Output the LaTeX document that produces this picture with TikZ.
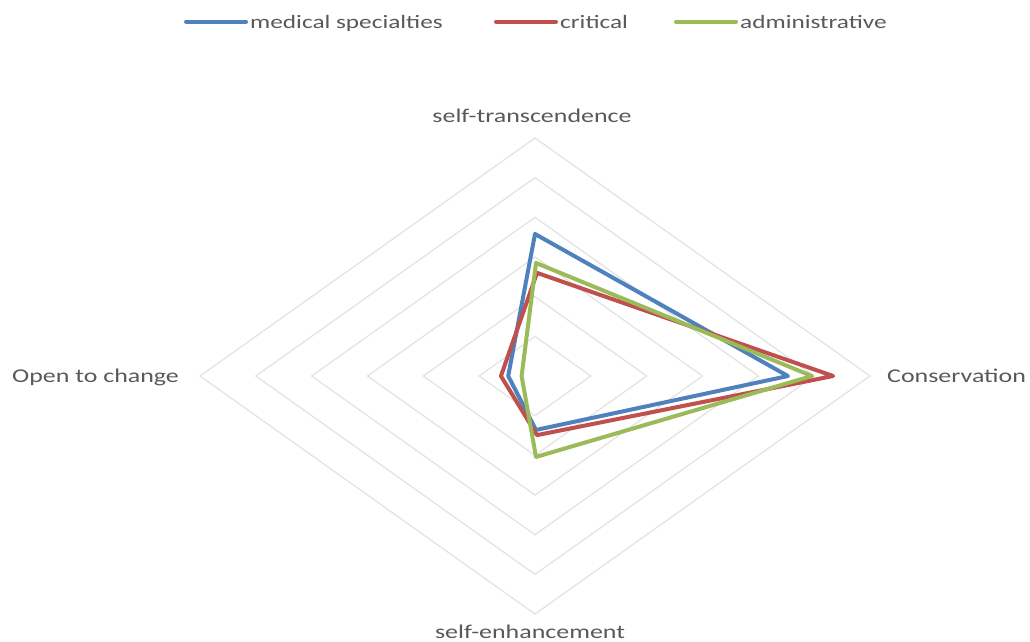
\documentclass[tikz,border=0pt]{standalone}
\usepackage{fontspec}
\setmainfont{Carlito}
\definecolor{seriesblue}{HTML}{4F81BD}
\definecolor{seriesred}{HTML}{C0504D}
\definecolor{seriesgreen}{HTML}{9BBB59}
\definecolor{gridgray}{HTML}{E3E3E3}
\definecolor{labelgray}{HTML}{595959}
% one radar unit along each axis
\newcommand{\ux}{55.83}
\newcommand{\uy}{39.67}
% wide chart lettering
\newcommand{\wide}[1]{\scalebox{1.33}[1]{#1}}
\begin{document}
\begin{tikzpicture}[x=1pt,y=-1pt,
  gridline/.style={draw=gridgray,line width=1.3pt,line join=miter},
  series/.style={line width=4pt,line join=round},
  axislabel/.style={inner sep=0pt,text=labelgray,font=\fontsize{19.5}{23}\selectfont},
  legendtext/.style={inner sep=0pt,text=labelgray,anchor=base west,font=\fontsize{19}{23}\selectfont},
  legendline/.style={line width=4pt,line cap=round}]
\useasboundingbox (0,0) rectangle (1030,641);
\coordinate (O) at (535,376);

% concentric grid diamonds, six rings
\foreach \k in {1,...,6}{
  \draw[gridline] (535,{376-\uy*\k}) -- ({535+\ux*\k},376) -- (535,{376+\uy*\k}) -- ({535-\ux*\k},376) -- cycle;
}

% axis labels
\node[axislabel,anchor=base] (top) at (532,122) {\wide{self-transcendence}};
\node[axislabel,anchor=base west] (right) at (887,382) {\wide{Conservation}};
\node[axislabel,anchor=base west] (left) at (12,382) {\wide{Open to change}};
\node[axislabel,anchor=base] (bottom) at (530,638) {\wide{self-enhancement}};

% series: top, right, bottom, left values
\draw[series,seriesblue] (535,{376-\uy*3.58}) -- ({535+\ux*4.53},376) -- (536,{376+\uy*1.36}) -- ({535-\ux*0.48},376) -- cycle;
\draw[series,seriesred] (537,{376-\uy*2.60}) -- ({535+\ux*5.34},376) -- (537,{376+\uy*1.49}) -- ({535-\ux*0.61},376) -- cycle;
\draw[series,seriesgreen] (536,{376-\uy*2.85}) -- ({535+\ux*4.96},376) -- (536,{376+\uy*2.04}) -- ({535-\ux*0.24},376) -- cycle;

% legend
\coordinate (lb1) at (186,21.7); \coordinate (lb2) at (246,21.7);
\coordinate (lr1) at (496,21.7); \coordinate (lr2) at (556,21.7);
\coordinate (lg1) at (676,21.7); \coordinate (lg2) at (736,21.7);
\draw[legendline,seriesblue] (lb1) -- (lb2);
\draw[legendline,seriesred] (lr1) -- (lr2);
\draw[legendline,seriesgreen] (lg1) -- (lg2);
\node[legendtext] (legblue) at (250,28) {\wide{medical specialties}};
\node[legendtext] (legred) at (560,28) {\wide{critical}};
\node[legendtext] (leggreen) at (740,28) {\wide{administrative}};
\end{tikzpicture}
\end{document}
